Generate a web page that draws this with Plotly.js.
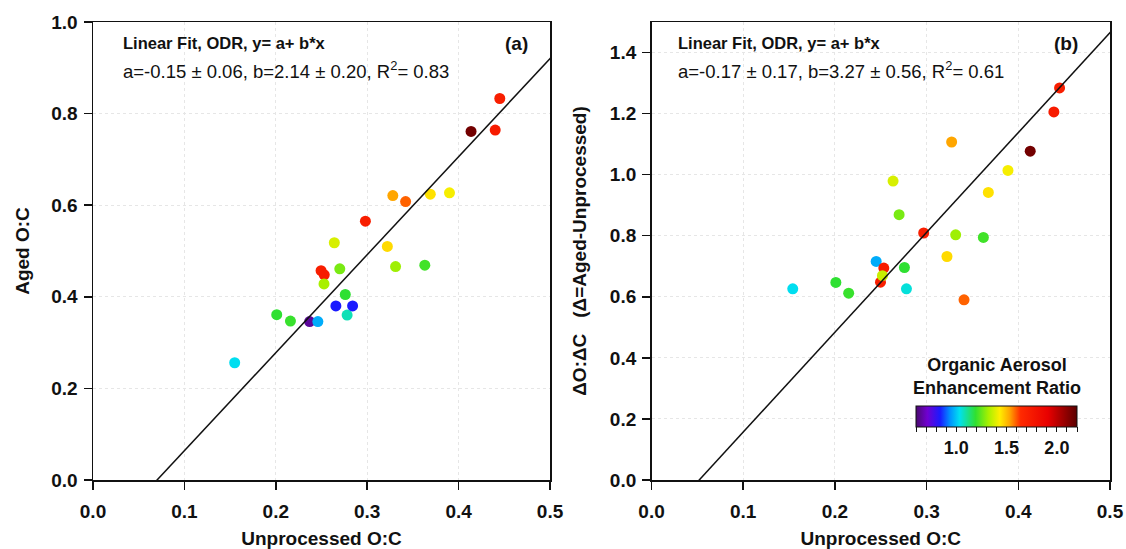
<!DOCTYPE html>
<html>
<head>
<meta charset="utf-8">
<script src="https://cdn.plot.ly/plotly-3.0.1.min.js"></script>
<style>html,body{margin:0;padding:0;background:#fff;}#chart{width:1126px;height:549px;}</style>
</head>
<body>
<div id="chart"></div>
<script>
// ---- Panel (a): Aged O:C vs Unprocessed O:C ----
const unprocA = [0.155, 0.201, 0.216, 0.237, 0.246, 0.2495, 0.253, 0.2527, 0.264, 0.270, 0.2657, 0.276, 0.278, 0.284, 0.298, 0.322, 0.328, 0.331, 0.342, 0.363, 0.369, 0.390, 0.4136, 0.440, 0.445];
const agedA   = [0.256, 0.361, 0.347, 0.346, 0.346, 0.457, 0.448, 0.428, 0.518, 0.461, 0.380, 0.405, 0.360, 0.380, 0.565, 0.510, 0.621, 0.466, 0.608, 0.469, 0.624, 0.627, 0.761, 0.764, 0.833];
const ratioA  = [1.03, 1.19, 1.20, 0.65, 0.97, 1.72, 1.74, 1.32, 1.38, 1.27, 0.84, 1.19, 1.08, 0.84, 1.72, 1.46, 1.53, 1.31, 1.59, 1.21, 1.45, 1.42, 2.15, 1.74, 1.72];

// ---- Panel (b): dO:dC vs Unprocessed O:C ----
const unprocB = [0.154, 0.201, 0.215, 0.245, 0.2497, 0.2533, 0.2518, 0.2634, 0.270, 0.2758, 0.278, 0.2968, 0.3222, 0.3273, 0.3317, 0.3408, 0.3619, 0.3673, 0.3887, 0.413, 0.4388, 0.445];
const deltaB  = [0.626, 0.647, 0.612, 0.716, 0.648, 0.694, 0.669, 0.979, 0.869, 0.696, 0.626, 0.809, 0.732, 1.107, 0.803, 0.590, 0.7945, 0.942, 1.014, 1.077, 1.2055, 1.284];
const ratioB  = [1.03, 1.19, 1.20, 0.97, 1.72, 1.74, 1.36, 1.38, 1.27, 1.19, 1.05, 1.72, 1.46, 1.53, 1.31, 1.59, 1.21, 1.45, 1.42, 2.15, 1.74, 1.72];

// ---- ODR fit parameters ----
const fitA = {a: -0.15, b: 2.14};
const fitB = {a: -0.17, b: 3.27};
const fitX = [0, 0.55];

// ---- Text / ticks ----
const fitTitle = 'Linear Fit, ODR, y= a+ b*x';
const fitTextA = 'a=-0.15 ± 0.06, b=2.14 ± 0.20, R<sup>2</sup>= 0.83';
const fitTextB = 'a=-0.17 ± 0.17, b=3.27 ± 0.56, R<sup>2</sup>= 0.61';
const cbTick0 = 1.0, cbDtick = 0.1, cbLabelStep = 5;   // labels 1.0, 1.5, 2.0
const cbTitle = 'Organic Aerosol<br>Enhancement Ratio';

const cmin = 0.6, cmax = 2.2;
const cscale = [[0,'#4a0a6e'],[0.07,'#7000d0'],[0.15,'#1a1aff'],[0.21,'#0090ff'],[0.27,'#00e0f0'],[0.37,'#30e030'],[0.45,'#a8f000'],[0.52,'#ffee00'],[0.58,'#ffa800'],[0.65,'#ff2a00'],[0.82,'#e80000'],[1,'#5a0000']];

const FONT = '"Liberation Sans", Arial, sans-serif';
const bold = (s) => ({family: FONT, size: s, color: '#111', weight: 700});

const traces = [
  {x: unprocA, y: agedA, xaxis: 'x', yaxis: 'y', mode: 'markers', type: 'scatter',
   marker: {size: 11, color: ratioA, colorscale: cscale, cmin: cmin, cmax: cmax, showscale: false, line: {width: 0}}},
  {x: fitX, y: fitX.map(v => fitA.a + fitA.b * v), xaxis: 'x', yaxis: 'y', mode: 'lines', type: 'scatter',
   line: {color: '#111', width: 1.5}},
  {x: unprocB, y: deltaB, xaxis: 'x2', yaxis: 'y2', mode: 'markers', type: 'scatter',
   marker: {size: 11, color: ratioB, colorscale: cscale, cmin: cmin, cmax: cmax, showscale: true, line: {width: 0},
     colorbar: {orientation: 'h', x: 0.8884, xanchor: 'center', y: 0.1616, yanchor: 'top',
       len: 161, lenmode: 'pixels', thickness: 21, thicknessmode: 'pixels',
       xpad: 0, ypad: 0, outlinecolor: '#111', outlinewidth: 1,
       tickmode: 'linear', tick0: cbTick0, dtick: cbDtick, ticklabelstep: cbLabelStep, tickformat: '.1f',
       ticks: 'outside', ticklen: 5, tickcolor: '#111', tickfont: bold(18)}}},
  {x: fitX, y: fitX.map(v => fitB.a + fitB.b * v), xaxis: 'x2', yaxis: 'y2', mode: 'lines', type: 'scatter',
   line: {color: '#111', width: 1.5}}
];

const axisBase = {
  showline: true, linecolor: '#111', linewidth: 1.5, mirror: true,
  ticks: 'outside', ticklen: 8, tickwidth: 1.5, tickcolor: '#111',
  showgrid: true, gridcolor: '#e6e6e6', gridwidth: 1, griddash: 'dot',
  zeroline: false, tickfont: bold(19), tickformat: '.1f', automargin: false
};

const layout = {
  width: 1126, height: 549,
  margin: {l: 93, r: 16, t: 22, b: 69},
  paper_bgcolor: '#fff', plot_bgcolor: '#fff',
  showlegend: false,
  font: {family: FONT, color: '#111'},
  xaxis: Object.assign({}, axisBase, {domain: [0, 0.4494], range: [0, 0.5], dtick: 0.1, tick0: 0, anchor: 'y', ticklabelstandoff: 6,
    title: {text: 'Unprocessed O:C', font: bold(19), standoff: 12}}),
  yaxis: Object.assign({}, axisBase, {domain: [0, 1], range: [0, 1.0], dtick: 0.2, tick0: 0, anchor: 'x', ticklabelstandoff: 2,
    title: {text: 'Aged O:C', font: bold(19), standoff: 16}}),
  xaxis2: Object.assign({}, axisBase, {domain: [0.5492, 1], range: [0, 0.5], dtick: 0.1, tick0: 0, anchor: 'y2', ticklabelstandoff: 6,
    title: {text: 'Unprocessed O:C', font: bold(19), standoff: 12}}),
  yaxis2: Object.assign({}, axisBase, {domain: [0, 1], range: [0, 1.5], dtick: 0.2, tick0: 0, anchor: 'x2', ticklabelstandoff: 2,
    title: {text: 'ΔO:ΔC   (Δ=Aged-Unprocessed)', font: bold(19), standoff: 18}}),
  annotations: [
    {text: fitTitle, xref: 'paper', yref: 'paper', x: 0.0275, y: 0.954, xanchor: 'left', yanchor: 'middle', showarrow: false, font: bold(16.5)},
    {text: fitTextA, xref: 'paper', yref: 'paper', x: 0.0275, y: 0.895, xanchor: 'left', yanchor: 'middle', showarrow: false, font: {family: FONT, size: 18.5, color: '#111'}},
    {text: '(a)', xref: 'paper', yref: 'paper', x: 0.4297, y: 0.954, xanchor: 'right', yanchor: 'middle', showarrow: false, font: bold(19)},
    {text: fitTitle, xref: 'paper', yref: 'paper', x: 0.5733, y: 0.954, xanchor: 'left', yanchor: 'middle', showarrow: false, font: bold(16.5)},
    {text: fitTextB, xref: 'paper', yref: 'paper', x: 0.5733, y: 0.895, xanchor: 'left', yanchor: 'middle', showarrow: false, font: {family: FONT, size: 18.5, color: '#111'}},
    {text: '(b)', xref: 'paper', yref: 'paper', x: 0.9705, y: 0.954, xanchor: 'right', yanchor: 'middle', showarrow: false, font: bold(19)},
    {text: cbTitle, xref: 'paper', yref: 'paper', x: 0.8884, y: 0.226, xanchor: 'center', yanchor: 'middle', showarrow: false, font: bold(18)}
  ]
};

Plotly.newPlot('chart', traces, layout, {staticPlot: true, displayModeBar: false});
</script>
</body>
</html>
